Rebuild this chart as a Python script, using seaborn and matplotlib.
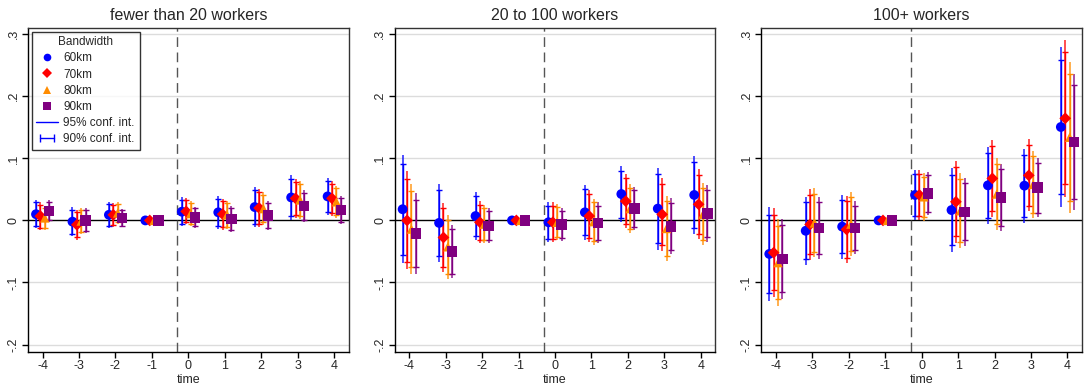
import numpy as np
import pandas as pd
import matplotlib
matplotlib.use("Agg")
import matplotlib.pyplot as plt
from matplotlib.lines import Line2D
from matplotlib.legend_handler import HandlerLine2D
import seaborn as sns

# Datos: estimaciones y errores estandar por panel y bandwidth
time = [-4, -3, -2, -1, 0, 1, 2, 3, 4]
bandwidths = ["60km", "70km", "80km", "90km"]
panels = ["fewer than 20 workers", "20 to 100 workers", "100+ workers"]

est_small = {
    "60km": [0.010, -0.002, 0.009, 0, 0.014, 0.013, 0.0215, 0.037, 0.0387],
    "70km": [0.007, -0.007, 0.009, 0, 0.0145, 0.010, 0.020, 0.0355, 0.0355],
    "80km": [0.004, -0.001, 0.012, 0, 0.011, 0.009, 0.019, 0.033, 0.030],
    "90km": [0.015, 0.000, 0.004, 0, 0.005, 0.002, 0.008, 0.023, 0.0167],
}
se_small = {
    "60km": [0.0117, 0.0117, 0.0107, 0.0015, 0.0117, 0.0133, 0.0163, 0.0184, 0.0153],
    "70km": [0.0112, 0.0122, 0.0097, 0.0015, 0.0107, 0.0128, 0.0153, 0.0163, 0.0143],
    "80km": [0.0102, 0.0107, 0.0087, 0.0015, 0.0102, 0.0117, 0.0133, 0.0158, 0.0133],
    "90km": [0.0092, 0.0102, 0.0077, 0.0015, 0.0087, 0.0107, 0.0122, 0.0133, 0.0117],
}
est_mid = {
    "60km": [0.018, -0.004, 0.007, 0, -0.003, 0.013, 0.0425, 0.019, 0.041],
    "70km": [0.000, -0.0275, -0.003, 0, -0.003, 0.007, 0.031, 0.0097, 0.026],
    "80km": [-0.014, -0.0425, -0.006, 0, -0.003, -0.002, 0.019, -0.013, 0.010],
    "90km": [-0.021, -0.050, -0.0087, 0, -0.0065, -0.004, 0.019, -0.0097, 0.0113],
}
se_mid = {
    "60km": [0.0444, 0.0321, 0.0194, 0.0015, 0.0163, 0.0224, 0.0230, 0.0337, 0.0319],
    "70km": [0.0403, 0.0286, 0.0173, 0.0015, 0.0163, 0.0214, 0.0224, 0.0301, 0.0288],
    "80km": [0.0372, 0.0265, 0.0158, 0.0015, 0.0148, 0.0189, 0.0199, 0.0270, 0.0255],
    "90km": [0.0332, 0.0219, 0.0143, 0.0015, 0.0133, 0.0168, 0.0179, 0.0230, 0.0232],
}
est_large = {
    "60km": [-0.054, -0.0167, -0.010, 0, 0.041, 0.0167, 0.0565, 0.056, 0.1505],
    "70km": [-0.052, -0.0065, -0.0145, 0, 0.041, 0.030, 0.0677, 0.0726, 0.1645],
    "80km": [-0.068, -0.004, -0.006, 0, 0.038, 0.0156, 0.0425, 0.058, 0.134],
    "90km": [-0.062, -0.012, -0.012, 0, 0.0435, 0.014, 0.037, 0.053, 0.126],
}
se_large = {
    "60km": [0.0383, 0.0278, 0.0263, 0.0015, 0.0209, 0.0342, 0.0316, 0.0305, 0.0656],
    "70km": [0.0365, 0.0291, 0.0276, 0.0015, 0.0204, 0.0339, 0.0316, 0.0296, 0.0645],
    "80km": [0.0357, 0.0283, 0.0263, 0.0015, 0.0196, 0.0309, 0.0296, 0.0276, 0.0620],
    "90km": [0.0329, 0.0255, 0.0217, 0.0015, 0.0179, 0.0278, 0.0277, 0.0245, 0.0560],
}

colores = {"60km": "#0000FF", "70km": "#FF0000", "80km": "#FF8C00", "90km": "#800080"}
marcadores = {"60km": "o", "70km": "D", "80km": "^", "90km": "s"}
tamanos = {"60km": 50, "70km": 36, "80km": 46, "90km": 56}
desplaz = {"60km": -0.18, "70km": -0.06, "80km": 0.06, "90km": 0.18}

# Tabla larga
filas = []
for panel, est, se in zip(panels, [est_small, est_mid, est_large], [se_small, se_mid, se_large]):
    for bw in bandwidths:
        for t, e, s in zip(time, est[bw], se[bw]):
            filas.append({"panel": panel, "bandwidth": bw, "time": t, "est": e, "se": s})
df = pd.DataFrame(filas)
df["x"] = df["time"] + df["bandwidth"].map(desplaz)

sns.set_style("white")
plt.rcParams["font.family"] = ["Liberation Sans", "DejaVu Sans"]

fig, axes = plt.subplots(1, 3, figsize=(10.84, 3.85), dpi=100)
fig.subplots_adjust(left=28 / 1084, right=1082 / 1084, top=1 - 28 / 385,
                    bottom=1 - 352 / 385, wspace=0.143)

for ax, panel in zip(axes, panels):
    sub = df[df["panel"] == panel]
    for y in [-0.2, -0.1, 0.1, 0.2, 0.3]:
        ax.axhline(y, color="#dcdcdc", lw=1, zorder=0)
    ax.axhline(0, color="black", lw=1, zorder=1)
    ax.axvline(-0.3, color="#555555", lw=1, dashes=(7, 4), zorder=1)
    for bw in bandwidths:
        d = sub[sub["bandwidth"] == bw]
        ax.vlines(d["x"], d["est"] - 1.96 * d["se"], d["est"] + 1.96 * d["se"],
                  color=colores[bw], lw=1.3, alpha=0.75, zorder=2)
        ax.errorbar(d["x"], d["est"], yerr=1.645 * d["se"], fmt="none",
                    ecolor=colores[bw], elinewidth=1, capsize=2.5, capthick=1, zorder=3)
    for bw in bandwidths:
        d = sub[sub["bandwidth"] == bw]
        sns.scatterplot(data=d, x="x", y="est", color=colores[bw], marker=marcadores[bw],
                        s=tamanos[bw], edgecolor="none", ax=ax, zorder=4, legend=False)
    ax.set_xlim(-4.4, 4.4)
    ax.set_ylim(-0.212, 0.31)
    ax.set_xticks(time)
    ax.set_xticklabels([str(t) for t in time], fontsize=9)
    ax.set_yticks([-0.2, -0.1, 0, 0.1, 0.2, 0.3])
    ax.set_yticklabels(["-.2", "-.1", "0", ".1", ".2", ".3"], fontsize=9,
                       rotation=90, va="center")
    ax.tick_params(bottom=True, left=True, direction="out", length=4, width=1,
                   color="black", pad=2)
    ax.set_xlabel("time", fontsize=9, labelpad=1)
    ax.set_ylabel("")
    ax.set_title(panel, fontsize=11.5, pad=6)
    for sp in ax.spines.values():
        sp.set_color("#333333")
        sp.set_linewidth(1)
    ax.spines["left"].set_color("black")
    ax.spines["bottom"].set_color("black")

# Leyenda
handles = []
for bw in bandwidths:
    handles.append(Line2D([], [], color=colores[bw], marker=marcadores[bw], ls="none",
                          markersize=5.5, markeredgewidth=0, label=bw))
h95 = Line2D([], [], color="#0000FF", lw=1, label="95% conf. int.")
h90 = Line2D([], [], color="#0000FF", lw=1, marker="|", markersize=6, label="90% conf. int.")
handles += [h95, h90]
leg = axes[0].legend(handles=handles, title="Bandwidth", loc="upper left",
                     fontsize=8.5, title_fontsize=8.5, frameon=True, fancybox=False,
                     edgecolor="black", borderpad=0.4, labelspacing=0.35,
                     handlelength=1.8, handletextpad=0.5, borderaxespad=0.3,
                     handler_map={h90: HandlerLine2D(numpoints=2)})
leg.get_frame().set_linewidth(1)

plt.savefig("out.png", dpi=100)
plt.close()
